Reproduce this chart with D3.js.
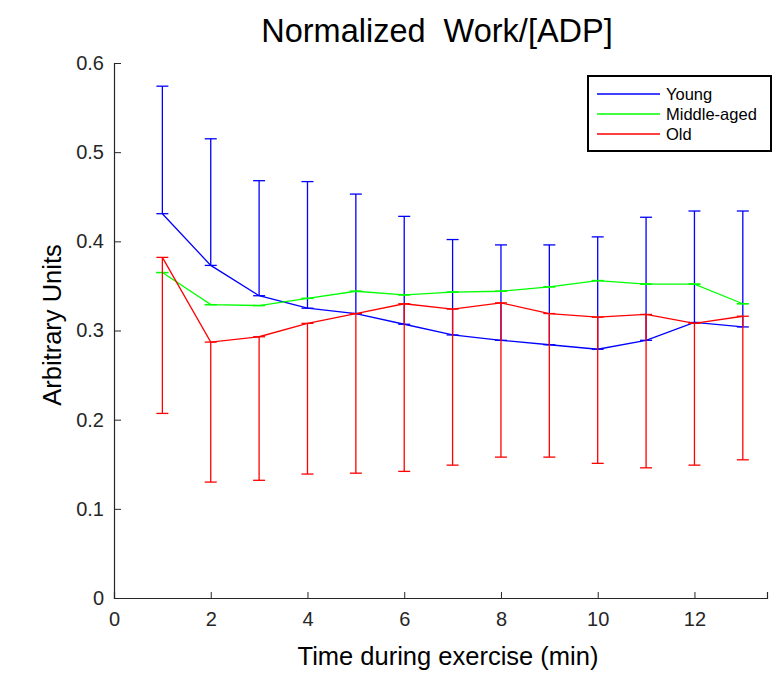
<!DOCTYPE html>
<html>
<head>
<meta charset="utf-8">
<script src="https://cdn.jsdelivr.net/npm/d3@7"></script>
<style>
  body { margin: 0; background: #fff; }
  svg text { font-family: "Liberation Sans", Arial, sans-serif; }
</style>
</head>
<body>
<div id="chart"></div>
<script>
// Time points (min)
var minutes = [1, 2, 3, 4, 5, 6, 7, 8, 9, 10, 11, 12, 13];
// Mean values per group
var young = [0.431, 0.373, 0.339, 0.325, 0.319, 0.307, 0.295, 0.289, 0.284, 0.279, 0.289, 0.309, 0.304];
var middleAged = [0.365, 0.329, 0.328, 0.336, 0.344, 0.340, 0.343, 0.344, 0.349, 0.356, 0.352, 0.352, 0.330];
var old = [0.382, 0.287, 0.293, 0.308, 0.319, 0.330, 0.324, 0.331, 0.319, 0.315, 0.318, 0.308, 0.316];
// Error bar ends (young: upper only, old: lower only)
var youngUpper = [0.574, 0.515, 0.468, 0.467, 0.453, 0.428, 0.402, 0.396, 0.396, 0.405, 0.427, 0.434, 0.434];
var oldLower = [0.207, 0.130, 0.132, 0.139, 0.140, 0.142, 0.149, 0.158, 0.158, 0.151, 0.146, 0.149, 0.155];
var xTicks = [0, 2, 4, 6, 8, 10, 12];
var yTicks = [0, 0.1, 0.2, 0.3, 0.4, 0.5, 0.6];

var series = [
  {name: "Young", color: "#0000ff", values: young, ends: youngUpper},
  {name: "Middle-aged", color: "#00ff00", values: middleAged, ends: middleAged},
  {name: "Old", color: "#ff0000", values: old, ends: oldLower}
];

var width = 773, height = 684;
var margin = {left: 114, right: 6, top: 63, bottom: 86};
var axisColor = "#262626";

var svg = d3.select("#chart").append("svg")
  .attr("width", width).attr("height", height);

var x = d3.scaleLinear().domain([0, 13.5]).range([margin.left, width - margin.right]);
var y = d3.scaleLinear().domain([0, 0.6]).range([height - margin.bottom, margin.top]);

// Axes (ticks point inward, like MATLAB)
var xAxis = svg.append("g")
  .attr("transform", "translate(0," + y(0) + ")")
  .call(d3.axisBottom(x).tickValues(xTicks).tickSize(-6).tickPadding(14).tickFormat(d3.format("d")));
var yAxis = svg.append("g")
  .attr("transform", "translate(" + x(0) + ",0)")
  .call(d3.axisLeft(y).tickValues(yTicks).tickSize(-7).tickPadding(10)
    .tickFormat(function(d){ return d === 0 ? "0" : d3.format(".1f")(d); }));
[xAxis, yAxis].forEach(function(a){
  a.select(".domain").attr("stroke", axisColor).attr("stroke-width", 1.2);
  a.selectAll(".tick line").attr("stroke", axisColor).attr("stroke-width", 1);
  a.selectAll(".tick text").attr("fill", axisColor).style("font-size", "20px");
});

// Error bars
var capHalf = 6;
series.forEach(function(s){
  var g = svg.append("g");
  minutes.forEach(function(m, i){
    var px = x(m);
    g.append("line")
      .attr("x1", px).attr("x2", px)
      .attr("y1", y(s.values[i])).attr("y2", y(s.ends[i]))
      .attr("stroke", s.color).attr("stroke-width", 1.3);
    [s.values[i], s.ends[i]].forEach(function(v){
      g.append("line")
        .attr("x1", px - capHalf).attr("x2", px + capHalf)
        .attr("y1", y(v)).attr("y2", y(v))
        .attr("stroke", s.color).attr("stroke-width", 1.3);
    });
  });
  // Mean line
  var line = d3.line()
    .x(function(d, i){ return x(minutes[i]); })
    .y(function(d){ return y(d); });
  svg.append("path").datum(s.values)
    .attr("d", line)
    .attr("fill", "none")
    .attr("stroke", s.color)
    .attr("stroke-width", 1.3);
});

// Title and labels
svg.append("text")
  .attr("x", 437).attr("y", 42)
  .attr("text-anchor", "middle")
  .style("font-size", "32.5px").style("white-space", "pre").attr("fill", "#000")
  .text("Normalized  Work/[ADP]");
svg.append("text")
  .attr("x", 448).attr("y", 665)
  .attr("text-anchor", "middle")
  .style("font-size", "25.5px").attr("fill", "#000")
  .text("Time during exercise (min)");
svg.append("text")
  .attr("transform", "translate(61,325) rotate(-90)")
  .attr("text-anchor", "middle")
  .style("font-size", "25.5px").attr("fill", "#000")
  .text("Arbitrary Units");

// Legend
var legend = svg.append("g");
legend.append("rect")
  .attr("x", 588).attr("y", 76).attr("width", 183).attr("height", 75)
  .attr("fill", "#fff").attr("stroke", "#000").attr("stroke-width", 2);
series.forEach(function(s, i){
  var ly = 94 + i * 20;
  legend.append("line")
    .attr("x1", 597).attr("x2", 660).attr("y1", ly).attr("y2", ly)
    .attr("stroke", s.color).attr("stroke-width", 1.3);
  legend.append("text")
    .attr("x", 666).attr("y", ly + 6)
    .style("font-size", "16.5px").attr("fill", "#000")
    .text(s.name);
});
</script>
</body>
</html>
